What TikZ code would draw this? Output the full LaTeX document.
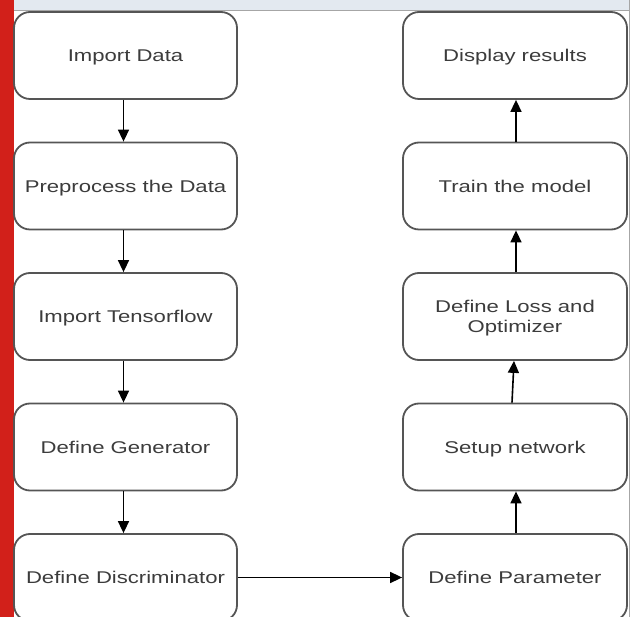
\documentclass[tikz,border=0pt]{standalone}
\usepackage{fontspec}
\setmainfont{Liberation Sans}[FakeStretch=1.3]
\usetikzlibrary{arrows.meta}
\definecolor{redbar}{HTML}{D2201A}
\definecolor{topbar}{HTML}{E3E9F0}
\definecolor{boxline}{HTML}{555555}
\definecolor{boxtext}{HTML}{3C3C3C}
\tikzset{
  flowbox/.style={draw=boxline, line width=1.8pt, rounded corners=16pt, fill=white,
    minimum width=223pt, minimum height=87pt, inner sep=0pt, align=center,
    text depth=0pt,
    text=boxtext, font=\fontsize{17pt}{20pt}\selectfont},
  flowarrow/.style={draw=black, line width=1.6pt, -{Triangle[length=12pt,width=11pt]}}
}
\begin{document}
\begin{tikzpicture}[x=1pt,y=-1pt]
\useasboundingbox (0,0) rectangle (630,617);
\clip (0,0) rectangle (630,617);
\fill[white] (0,0) rectangle (630,617);
% top bar and frame
\fill[topbar] (13,0) rectangle (629,10);
\draw[gray!70, line width=1pt] (13,10.5) -- (629,10.5);
\draw[gray!70, line width=1.2pt] (629.2,0) -- (629.2,617);
\fill[redbar] (0,0) rectangle (13.5,617);
% left column
\node[flowbox] (imp)  at (125.5,55.5)  {Import Data};
\node[flowbox] (pre)  at (125.5,186)   {Preprocess the Data};
\node[flowbox] (tf)   at (125.5,316.5) {Import Tensorflow};
\node[flowbox] (gen)  at (125.5,447)   {Define Generator};
\node[flowbox] (dis)  at (125.5,577.5) {Define Discriminator};
% right column
\node[flowbox, minimum width=224pt] (disp)  at (515,55.5)  {Display results};
\node[flowbox, minimum width=224pt] (train) at (515,186)   {Train the model};
\node[flowbox, minimum width=224pt] (loss)  at (515,316.5) {Define Loss and\\Optimizer};
\node[flowbox, minimum width=224pt] (setup) at (515,447)   {Setup network};
\node[flowbox, minimum width=224pt] (param) at (515,577.5) {Define Parameter};
% connectors
\draw[flowarrow] ([xshift=-2pt]imp.south) -- ([xshift=-2pt]pre.north);
\draw[flowarrow] ([xshift=-2pt]pre.south) -- ([xshift=-2pt]tf.north);
\draw[flowarrow] ([xshift=-2pt]tf.south) -- ([xshift=-2pt]gen.north);
\draw[flowarrow] ([xshift=-2pt]gen.south) -- ([xshift=-2pt]dis.north);
\draw[flowarrow] (dis.east) -- (param.west);
\draw[flowarrow] ([xshift=1pt]param.north) -- ([xshift=1pt]setup.south);
\draw[flowarrow] ([xshift=-3pt]setup.north) -- ([xshift=-1pt]loss.south);
\draw[flowarrow] ([xshift=1pt]loss.north) -- ([xshift=1pt]train.south);
\draw[flowarrow] ([xshift=1pt]train.north) -- ([xshift=1pt]disp.south);
\end{tikzpicture}
\end{document}
